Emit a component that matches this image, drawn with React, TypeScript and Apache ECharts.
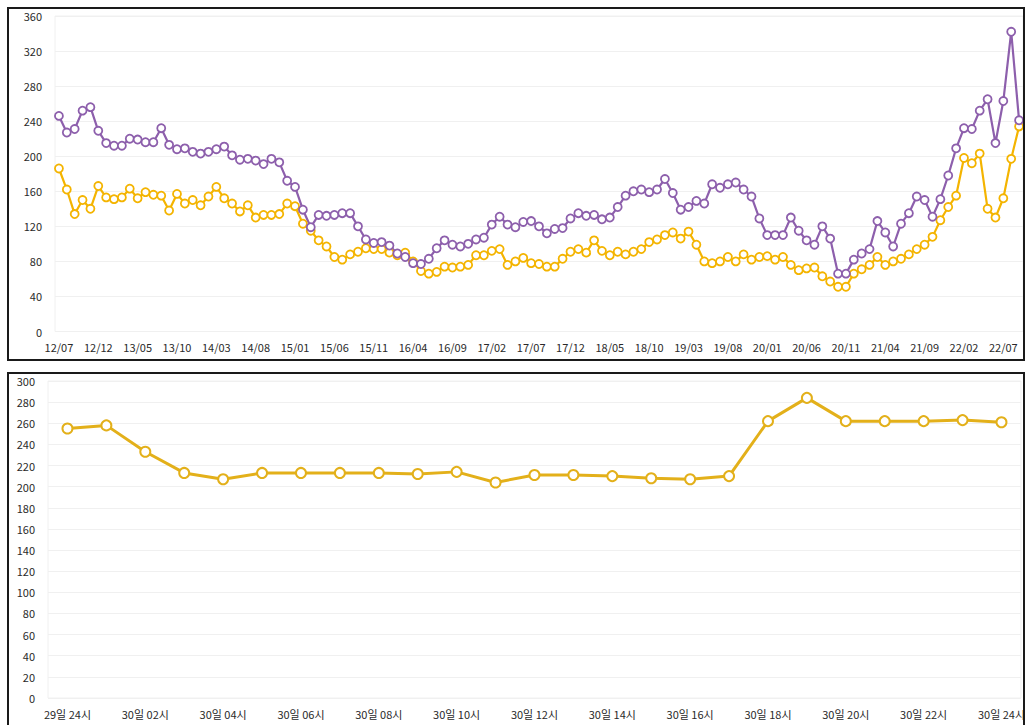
import React, { useEffect, useRef } from "react";
import * as echarts from "echarts";

// Top chart: monthly, 2012/07 .. 2022/09
const TOP_START_YEAR = 2012;
const TOP_START_MONTH = 7;

const purpleSeries = [
  246, 227, 231, 252, 256, 229, 215, 212, 212, 220, 219, 216, 216, 232, 213, 208, 209, 205, 203, 205,
  208, 211, 201, 196, 197, 195, 191, 197, 193, 172, 165, 139, 119, 133, 132, 133, 135, 135, 120, 105,
  101, 102, 98, 89, 85, 78, 77, 83, 95, 104, 99, 97, 100, 105, 107, 122, 131, 122, 119, 125,
  126, 120, 112, 117, 118, 129, 135, 132, 133, 128, 130, 142, 155, 160, 162, 159, 162, 174, 158, 139,
  142, 149, 146, 168, 164, 168, 170, 162, 154, 129, 110, 110, 110, 130, 115, 104, 99, 120, 106, 66,
  66, 82, 89, 94, 126, 113, 97, 123, 135, 154, 150, 131, 151, 178, 209, 232, 231, 252, 265, 215,
  263, 342, 241,
];

const yellowSeries = [
  186, 162, 134, 150, 140, 166, 153, 151, 153, 163, 152, 159, 156, 155, 138, 157, 146, 150, 144, 154,
  165, 152, 146, 137, 144, 130, 133, 133, 134, 146, 143, 123, 115, 104, 97, 85, 82, 88, 91, 95,
  94, 94, 90, 87, 90, 80, 69, 66, 68, 74, 73, 74, 76, 87, 87, 92, 94, 76, 80, 84,
  78, 77, 74, 74, 83, 91, 94, 90, 104, 92, 87, 91, 88, 91, 94, 102, 105, 110, 113, 106,
  114, 99, 80, 78, 80, 85, 80, 88, 82, 85, 86, 82, 85, 76, 70, 72, 73, 63, 57, 51,
  51, 66, 71, 76, 85, 76, 80, 83, 88, 94, 99, 108, 127, 142, 155, 198, 192, 203, 140, 130,
  152, 197, 234,
];

const monthCategories: string[] = [];
for (let i = 0; i < purpleSeries.length; i++) {
  const m0 = TOP_START_MONTH - 1 + i;
  const y = TOP_START_YEAR + Math.floor(m0 / 12);
  const m = (m0 % 12) + 1;
  monthCategories.push(String(y % 100).padStart(2, "0") + "/" + String(m).padStart(2, "0"));
}

// Bottom chart: hourly
const hourCategories = [
  "29일 24시", "30일 01시", "30일 02시", "30일 03시", "30일 04시", "30일 05시", "30일 06시",
  "30일 07시", "30일 08시", "30일 09시", "30일 10시", "30일 11시", "30일 12시", "30일 13시",
  "30일 14시", "30일 15시", "30일 16시", "30일 17시", "30일 18시", "30일 19시", "30일 20시",
  "30일 21시", "30일 22시", "30일 23시", "30일 24시",
];
const hourlySeries = [
  255, 258, 233, 213, 207, 213, 213, 213, 213, 212, 214, 204, 211, 211, 210, 208, 207, 210,
  262, 284, 262, 262, 262, 263, 261,
];

const PURPLE = "#8d5fac";
const YELLOW = "#f4b400";
const GOLD = "#e3b01a";
const FONT = "'Noto Sans CJK KR', 'Noto Sans', sans-serif";

export default function App() {
  const ref = useRef<HTMLDivElement>(null);
  useEffect(() => {
    if (!ref.current) return;
    const chart = echarts.init(ref.current, undefined, { renderer: "svg" });
    const labelStyle = { color: "#2a2a2a", fontFamily: FONT };
    chart.setOption({
      animation: false,
      backgroundColor: "#fff",
      grid: [
        { left: 55, right: 5, top: 16, height: 315.5, show: true, borderColor: "#f0f0f0", borderWidth: 1 },
        { left: 48, right: 5, top: 381, height: 317, show: true, borderColor: "#f0f0f0", borderWidth: 1 },
      ],
      xAxis: [
        {
          gridIndex: 0,
          type: "category",
          data: monthCategories,
          boundaryGap: true,
          axisLine: { show: false },
          axisTick: { show: false },
          axisLabel: { ...labelStyle, fontSize: 11, interval: 4, margin: 10 },
        },
        {
          gridIndex: 1,
          type: "category",
          data: hourCategories,
          boundaryGap: true,
          axisLine: { show: false },
          axisTick: { show: false },
          axisLabel: { ...labelStyle, fontSize: 11, interval: 1, margin: 10 },
        },
      ],
      yAxis: [
        {
          gridIndex: 0,
          type: "value",
          min: 0,
          max: 360,
          interval: 40,
          axisLine: { show: false },
          axisTick: { show: false },
          splitLine: { lineStyle: { color: "#f0f0f0" } },
          axisLabel: { ...labelStyle, fontSize: 11, margin: 13 },
        },
        {
          gridIndex: 1,
          type: "value",
          min: 0,
          max: 300,
          interval: 20,
          axisLine: { show: false },
          axisTick: { show: false },
          splitLine: { lineStyle: { color: "#f0f0f0" } },
          axisLabel: { ...labelStyle, fontSize: 11, margin: 13 },
        },
      ],
      series: [
        {
          type: "line",
          xAxisIndex: 0,
          yAxisIndex: 0,
          data: yellowSeries,
          symbol: "circle",
          symbolSize: 8,
          showAllSymbol: true,
          lineStyle: { color: YELLOW, width: 2.2 },
          itemStyle: { color: "#fff", borderColor: YELLOW, borderWidth: 1.8 },
        },
        {
          type: "line",
          xAxisIndex: 0,
          yAxisIndex: 0,
          data: purpleSeries,
          symbol: "circle",
          symbolSize: 8,
          showAllSymbol: true,
          lineStyle: { color: PURPLE, width: 2.2 },
          itemStyle: { color: "#fff", borderColor: PURPLE, borderWidth: 1.8 },
        },
        {
          type: "line",
          xAxisIndex: 1,
          yAxisIndex: 1,
          data: hourlySeries,
          symbol: "circle",
          symbolSize: 10,
          showAllSymbol: true,
          lineStyle: { color: GOLD, width: 3 },
          itemStyle: { color: "#fff", borderColor: GOLD, borderWidth: 2 },
        },
      ],
      graphic: [
        { type: "rect", shape: { x: 8, y: 8, width: 1016, height: 352 }, style: { fill: "none", stroke: "#1a1a1a", lineWidth: 2 }, z: 100 },
        { type: "rect", shape: { x: 8, y: 373, width: 1016, height: 400 }, style: { fill: "none", stroke: "#1a1a1a", lineWidth: 2 }, z: 100 },
      ],
    });
    return () => chart.dispose();
  }, []);
  return (
    <div
      ref={ref}
      style={{ position: "absolute", left: 0, top: 0, width: 1028, height: 725, background: "#fff" }}
    />
  );
}
